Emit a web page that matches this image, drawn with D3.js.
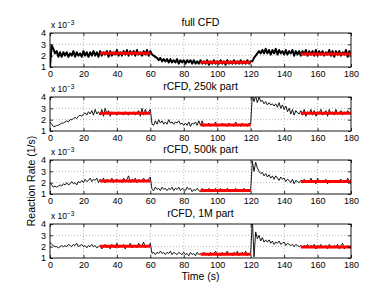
<!DOCTYPE html>
<html>
<head>
<meta charset="utf-8">
<script src="https://cdn.jsdelivr.net/npm/d3@7"></script>
<style>
  body { margin: 0; background: #fff; }
  text { font-family: "Liberation Sans", Arial, sans-serif; fill: #000; }
</style>
</head>
<body>
<script>
// rates in units of 1e-3 1/s, one sample per second (t = 0..180)
var fullCFD = [
  1.0, 2.9, 2.6, 2.2, 2.4, 1.9, 2.3, 1.9, 2.3, 2.0,
  2.3, 1.9, 2.2, 2.0, 2.4, 1.9, 2.3, 2.0, 2.2, 1.9,
  2.4, 2.0, 2.3, 1.9, 2.3, 2.0, 2.4, 2.0, 2.3, 1.9,
  2.4, 2.0, 2.3, 2.1, 2.4, 1.9, 2.4, 2.0, 2.3, 2.1,
  2.5, 2.0, 2.3, 2.0, 2.4, 2.1, 2.5, 2.0, 2.4, 2.1,
  2.4, 2.0, 2.5, 2.1, 2.3, 2.0, 2.4, 2.1, 2.5, 2.0,
  2.4, 2.1, 2.0, 1.9, 1.8, 1.6, 1.8, 1.5, 1.7, 1.5,
  1.7, 1.4, 1.7, 1.4, 1.6, 1.4, 1.7, 1.3, 1.6, 1.4,
  1.6, 1.3, 1.6, 1.4, 1.6, 1.3, 1.6, 1.3, 1.5, 1.3,
  1.6, 1.3, 1.5, 1.3, 1.6, 1.2, 1.5, 1.3, 1.6, 1.3,
  1.5, 1.3, 1.6, 1.3, 1.5, 1.2, 1.6, 1.3, 1.5, 1.3,
  1.6, 1.3, 1.5, 1.3, 1.6, 1.3, 1.5, 1.3, 1.6, 1.3,
  1.5, 1.5, 1.8, 2.0, 2.2, 2.4, 2.2, 2.5, 2.2, 2.6,
  2.2, 2.5, 2.1, 2.5, 2.2, 2.6, 2.1, 2.5, 2.2, 2.4,
  2.1, 2.5, 2.1, 2.4, 2.2, 2.5, 2.0, 2.4, 2.1, 2.4,
  2.0, 2.4, 2.1, 2.5, 2.0, 2.4, 2.1, 2.4, 2.0, 2.5,
  2.0, 2.4, 2.1, 2.4, 2.0, 2.3, 2.1, 2.5, 2.0, 2.4,
  1.9, 2.4, 2.1, 2.4, 2.0, 2.3, 2.1, 2.5, 1.9, 2.4,
  2.1
];
var rCFD250k = [
  1.8, 1.6, 1.4, 1.4, 1.5, 1.5, 1.6, 1.7, 1.7, 1.8,
  1.9, 1.8, 2.0, 2.0, 2.1, 2.2, 2.1, 2.3, 2.4, 2.3,
  2.5, 2.6, 2.4, 2.7, 2.5, 2.8, 2.4, 2.9, 2.5, 2.7,
  2.4, 2.9, 2.3, 3.0, 2.5, 2.8, 2.3, 2.7, 2.5, 2.6,
  2.4, 2.7, 2.5, 2.6, 2.4, 2.7, 2.5, 2.4, 2.6, 2.5,
  2.7, 2.4, 2.6, 2.8, 2.3, 3.0, 2.4, 2.9, 2.5, 2.7,
  2.9, 1.6, 1.5, 1.9, 1.6, 2.0, 1.7, 1.9, 1.6, 1.8,
  1.6, 2.0, 1.7, 1.8, 1.6, 1.8, 1.7, 1.9, 1.6, 1.7,
  1.5, 1.7, 1.5, 1.8, 1.4, 1.7, 1.6, 1.8, 1.5, 1.9,
  1.5, 1.9, 1.4, 1.6, 1.5, 1.7, 1.4, 1.6, 1.5, 1.8,
  1.4, 1.6, 1.5, 1.7, 1.5, 1.6, 1.4, 1.7, 1.5, 1.6,
  1.4, 1.8, 1.5, 1.6, 1.4, 1.7, 1.5, 1.6, 1.4, 1.7,
  1.6, 4.2, 3.6, 4.1, 3.5, 4.0, 3.6, 3.7, 3.4, 3.6,
  3.3, 3.5, 3.3, 3.4, 3.2, 3.4, 3.1, 3.5, 3.0, 3.3,
  2.9, 3.2, 2.7, 3.0, 2.5, 2.9, 2.4, 2.8, 2.6, 2.5,
  2.8, 2.4, 2.9, 2.3, 2.7, 2.5, 2.9, 2.4, 2.8, 2.3,
  2.7, 2.6, 2.9, 2.4, 2.6, 2.8, 2.3, 2.9, 2.5, 2.7,
  2.4, 2.9, 2.5, 2.6, 2.8, 2.4, 2.7, 2.5, 2.8, 2.6,
  2.7
];
var rCFD500k = [
  2.0, 1.8, 1.6, 1.7, 1.6, 1.7, 1.8, 1.7, 1.9, 1.8,
  2.0, 1.8, 1.9, 2.1, 1.9, 2.0, 1.8, 2.1, 2.0, 2.2,
  2.0, 2.3, 2.1, 2.2, 2.4, 2.1, 2.3, 2.2, 2.4, 2.0,
  2.3, 2.1, 2.4, 2.0, 2.3, 2.2, 2.1, 2.4, 2.0, 2.2,
  2.3, 2.1, 2.2, 2.0, 2.4, 2.1, 2.3, 2.6, 2.0, 2.3,
  2.2, 2.4, 2.0, 2.3, 2.1, 2.2, 2.4, 2.1, 2.2, 2.3,
  2.5, 1.4, 1.3, 1.6, 1.4, 1.5, 1.3, 1.6, 1.4, 1.5,
  1.3, 1.5, 1.4, 1.6, 1.3, 1.5, 1.4, 1.6, 1.3, 1.5,
  1.4, 1.3, 1.6, 1.4, 1.5, 1.2, 1.4, 1.3, 1.5, 1.3,
  1.2, 1.5, 1.3, 1.4, 1.2, 1.5, 1.3, 1.4, 1.2, 1.5,
  1.3, 1.2, 1.5, 1.3, 1.4, 1.2, 1.5, 1.3, 1.2, 1.4,
  1.3, 1.5, 1.2, 1.4, 1.3, 1.2, 1.5, 1.3, 1.4, 1.2,
  1.3, 3.9, 3.0, 3.8, 3.3, 3.0, 2.8, 2.9, 2.6, 2.8,
  2.5, 2.7, 2.4, 2.6, 2.3, 2.6, 2.4, 2.2, 2.5, 2.3,
  2.4, 2.1, 2.3, 2.2, 2.0, 2.3, 1.9, 2.2, 2.1, 2.0,
  2.2, 2.0, 2.3, 2.1, 2.2, 2.0, 2.4, 2.1, 2.2, 1.9,
  2.4, 2.1, 2.0, 2.2, 2.1, 2.3, 1.9, 2.2, 2.1, 2.0,
  2.2, 2.1, 2.0, 2.2, 2.3, 2.1, 2.2, 2.0, 2.4, 2.1,
  2.3
];
var rCFD1M = [
  2.4, 2.2, 2.1, 2.0, 2.0, 1.9, 2.0, 2.1, 2.0, 2.1,
  2.0, 2.2, 2.1, 2.0, 2.2, 2.1, 2.3, 2.0, 2.1, 2.2,
  2.0, 2.1, 1.9, 2.1, 2.0, 2.2, 2.0, 2.1, 1.9, 2.0,
  2.1, 1.8, 2.0, 2.2, 1.9, 2.1, 1.8, 2.2, 2.0, 1.9,
  2.3, 1.9, 2.1, 2.0, 2.2, 1.8, 2.1, 2.0, 2.3, 1.9,
  2.0, 2.1, 1.9, 2.3, 2.0, 2.1, 2.4, 1.9, 2.1, 2.0,
  2.3, 1.4, 1.5, 1.3, 1.5, 1.4, 1.6, 1.4, 1.5, 1.3,
  1.5, 1.4, 1.6, 1.3, 1.5, 1.4, 1.3, 1.5, 1.4, 1.3,
  1.5, 1.3, 1.4, 1.2, 1.5, 1.3, 1.4, 1.2, 1.5, 1.3,
  1.4, 1.3, 1.5, 1.3, 1.4, 1.2, 1.5, 1.3, 1.4, 1.6,
  1.3, 1.4, 1.2, 1.5, 1.3, 1.4, 1.6, 1.3, 1.4, 1.2,
  1.5, 1.3, 1.6, 1.2, 1.4, 1.5, 1.3, 1.6, 1.2, 1.4,
  1.3, 4.5, 1.1, 3.3, 2.7, 3.0, 2.5, 2.8, 2.4, 2.6,
  2.4, 2.6, 2.3, 2.5, 2.2, 2.4, 2.3, 2.5, 2.2, 2.3,
  2.4, 2.1, 2.3, 2.2, 2.1, 2.2, 2.0, 2.2, 2.1, 2.0,
  2.1, 1.9, 2.1, 2.0, 2.2, 1.9, 2.1, 2.0, 2.2, 1.8,
  2.1, 2.0, 2.2, 1.9, 2.0, 2.1, 1.8, 2.2, 2.0, 1.9,
  2.1, 2.0, 2.2, 1.8, 2.1, 2.3, 1.8, 2.0, 2.1, 1.9,
  2.0
];

// averaging windows and the red mean levels per panel
var windows = [[30, 60], [90, 120], [150, 180]];
var meansFull = [2.21, 1.41, 2.15];
var means250k = [2.57, 1.53, 2.57];
var means500k = [2.15, 1.30, 2.10];
var means1M = [2.03, 1.34, 1.98];

var titles = ["full CFD", "rCFD, 250k part", "rCFD, 500k part", "rCFD, 1M part"];
var xTicks = [0, 20, 40, 60, 80, 100, 120, 140, 160, 180];
var yTicks = [1, 2, 3, 4];

var panels = [
  { title: titles[0], values: fullCFD, means: meansFull, width: 2 },
  { title: titles[1], values: rCFD250k, means: means250k, width: 0.9 },
  { title: titles[2], values: rCFD500k, means: means500k, width: 0.9 },
  { title: titles[3], values: rCFD1M, means: means1M, width: 0.9 }
];

var W = 387, H = 291,
    left = 50, right = 351,
    tops = [33, 97, 160, 224],
    ph = 34;

var svg = d3.select("body").append("svg")
    .attr("width", W)
    .attr("height", H);

var x = d3.scaleLinear().domain([0, 180]).range([0, right - left]);
var y = d3.scaleLinear().domain([1, 4]).range([ph, 0]);

var line = d3.line()
    .x(function (d, i) { return x(i); })
    .y(function (d) { return y(d); });

panels.forEach(function (p, k) {
    var g = svg.append("g")
        .attr("transform", "translate(" + left + "," + tops[k] + ")");

    svg.append("clipPath").attr("id", "clip" + k)
      .append("rect")
        .attr("width", right - left)
        .attr("height", ph);

    // dotted grid
    g.selectAll("line.gx")
        .data(xTicks.slice(1, -1))
        .enter().append("line")
        .attr("x1", function (d) { return x(d); })
        .attr("x2", function (d) { return x(d); })
        .attr("y1", 0).attr("y2", ph)
        .attr("stroke", "#999").attr("stroke-width", 0.7)
        .attr("stroke-dasharray", "1,2");
    g.selectAll("line.gy")
        .data(yTicks.slice(1, -1))
        .enter().append("line")
        .attr("x1", 0).attr("x2", right - left)
        .attr("y1", function (d) { return y(d); })
        .attr("y2", function (d) { return y(d); })
        .attr("stroke", "#999").attr("stroke-width", 0.7)
        .attr("stroke-dasharray", "1,2");

    // series + window means
    var plot = g.append("g").attr("clip-path", "url(#clip" + k + ")");
    plot.append("path")
        .datum(p.values)
        .attr("fill", "none")
        .attr("stroke", "#000")
        .attr("stroke-width", p.width)
        .attr("stroke-linejoin", "round")
        .attr("d", line);
    plot.selectAll("line.mean")
        .data(windows)
        .enter().append("line")
        .attr("x1", function (d) { return x(d[0]); })
        .attr("x2", function (d) { return x(d[1]); })
        .attr("y1", function (d, i) { return y(p.means[i]); })
        .attr("y2", function (d, i) { return y(p.means[i]); })
        .attr("stroke", "#ff0000")
        .attr("stroke-width", 3);

    // axes, ticks pointing inward
    g.append("g")
        .attr("transform", "translate(0," + ph + ")")
        .call(d3.axisBottom(x).tickValues(xTicks).tickSize(-3).tickPadding(4));
    g.append("g")
        .call(d3.axisTop(x).tickValues(xTicks).tickSize(-3).tickFormat(""));
    g.append("g")
        .call(d3.axisLeft(y).tickValues(yTicks).tickSize(-3).tickPadding(4)
            .tickFormat(d3.format("d")));
    g.append("g")
        .attr("transform", "translate(" + (right - left) + ",0)")
        .call(d3.axisRight(y).tickValues(yTicks).tickSize(-3).tickFormat(""));
    g.selectAll(".domain").remove();
    g.selectAll(".tick line").attr("stroke", "#000").attr("stroke-width", 0.8);
    g.selectAll(".tick text")
        .attr("font-family", "Liberation Sans, Arial, sans-serif")
        .attr("font-size", 9)
        .attr("fill", "#000");

    g.append("rect")
        .attr("width", right - left)
        .attr("height", ph)
        .attr("fill", "none")
        .attr("stroke", "#000")
        .attr("stroke-width", 0.9);

    // title
    g.append("text")
        .attr("x", (right - left) / 2)
        .attr("y", -7)
        .attr("text-anchor", "middle")
        .attr("font-size", 10.5)
        .text(p.title);

    // exponent label
    var ex = g.append("text")
        .attr("x", 1)
        .attr("y", -5)
        .attr("font-size", 8.5);
    ex.append("tspan").text("x 10");
    ex.append("tspan").attr("dy", -3.5).attr("font-size", 6.5).text("\u22123");
});

svg.append("text")
    .attr("transform", "translate(35,181) rotate(-90)")
    .attr("text-anchor", "middle")
    .attr("font-size", 10.5)
    .text("Reaction Rate (1/s)");

svg.append("text")
    .attr("x", (left + right) / 2)
    .attr("y", 280)
    .attr("text-anchor", "middle")
    .attr("font-size", 10.5)
    .text("Time (s)");
</script>
</body>
</html>
